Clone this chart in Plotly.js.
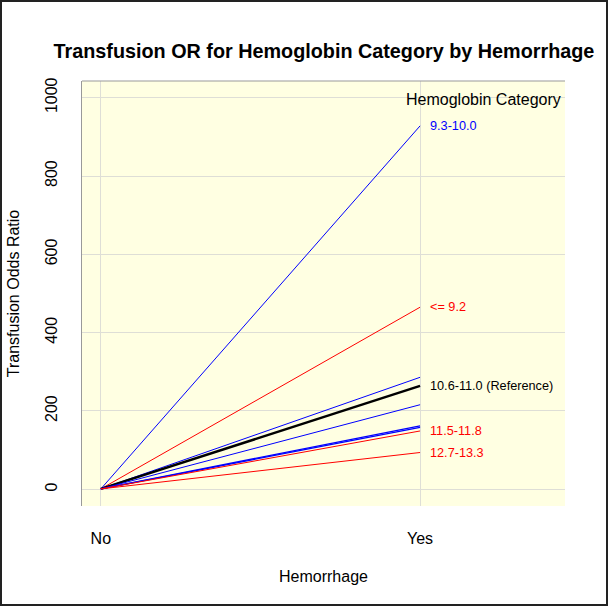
<!DOCTYPE html>
<html>
<head>
<meta charset="utf-8">
<script src="https://cdn.plot.ly/plotly-3.0.1.min.js"></script>
<style>
html,body{margin:0;padding:0;background:#fff;}
#frame{width:608px;height:606px;box-sizing:border-box;border:2px solid #222;background:#fff;}
#chart{width:604px;height:602px;}
</style>
</head>
<body>
<div id="frame"><div id="chart"></div></div>
<script>
// Data
const hemorrhage = ["No", "Yes"];
const categories = ["9.3-10.0", "<= 9.2", "9.3-10.0 b", "10.6-11.0 (Reference)", "10.1-10.5", "11.2-11.4", "11.9-12.6", "11.5-11.8", "12.7-13.3"];
const noValues  = [1, 1, 1, 1, 1, 1, 1, 1, 1];
const yesValues = [928, 465, 286, 264, 216, 162, 158, 149, 94];
const lineColors = ["blue", "red", "blue", "black", "blue", "blue", "blue", "red", "red"];
const lineWidths = [1, 1, 1, 2.5, 1, 1.3, 1.3, 1, 1];
const labelTexts = ["9.3-10.0", "<= 9.2", "10.6-11.0 (Reference)", "11.5-11.8", "12.7-13.3"];
const labelValues = [928, 465, 264, 149, 94];
const labelColors = ["blue", "red", "black", "red", "red"];
const yTicks = [0, 200, 400, 600, 800, 1000];
const legendTitle = "Hemoglobin Category";

const xIdx = hemorrhage.map((_, i) => i);
const traces = categories.map((c, i) => ({
  x: xIdx,
  y: [noValues[i], yesValues[i]],
  type: "scatter",
  mode: "lines",
  name: c,
  line: {color: lineColors[i], width: lineWidths[i]},
  hoverinfo: "skip"
}));

const annotations = labelTexts.map((t, i) => ({
  x: 1, y: labelValues[i], xref: "x", yref: "y",
  text: t, showarrow: false, xanchor: "left", yanchor: "middle",
  xshift: 8,
  font: {family: "Liberation Sans, Arial, sans-serif", size: 12.7, color: labelColors[i]}
}));
annotations.push({
  x: 1, y: 1, xref: "paper", yref: "paper", text: legendTitle, showarrow: false,
  xanchor: "right", yanchor: "middle", xshift: -2, yshift: -18,
  font: {family: "Liberation Sans, Arial, sans-serif", size: 16, color: "black"}
});

const layout = {
  width: 604, height: 602,
  margin: {l: 80, r: 41, t: 79, b: 98},
  paper_bgcolor: "#ffffff",
  plot_bgcolor: "#FFFFE2",
  showlegend: false,
  title: {
    text: "<b>Transfusion OR for Hemoglobin Category by Hemorrhage</b>",
    font: {family: "Liberation Sans, Arial, sans-serif", size: 19.8, color: "black"},
    x: 0.533, xanchor: "center", y: 0.918, yanchor: "middle"
  },
  font: {family: "Liberation Sans, Arial, sans-serif", color: "black"},
  xaxis: {
    range: [-0.059, 1.454],
    tickvals: xIdx, ticktext: hemorrhage,
    showgrid: true, gridcolor: "#DEDED6", gridwidth: 1,
    zeroline: false, showline: false, ticks: "",
    tickfont: {size: 16}, ticklabelstandoff: 21,
    title: {text: "Hemorrhage", font: {size: 16}, standoff: 24}
  },
  yaxis: {
    range: [-42.6, 1042.6],
    tickvals: yTicks,
    showgrid: true, gridcolor: "#DEDED6", gridwidth: 1,
    zeroline: false, showline: true, linecolor: "#999999", linewidth: 1,
    ticks: "", tickangle: -90,
    tickfont: {size: 16}, ticklabelstandoff: 18,
    title: {text: "Transfusion Odds Ratio", font: {size: 16}, standoff: 18}
  },
  shapes: [{
    type: "line", xref: "paper", yref: "paper", x0: 0, x1: 1, y0: 1, y1: 1,
    line: {color: "#999999", width: 1}
  }],
  annotations: annotations
};

Plotly.newPlot("chart", traces, layout, {displayModeBar: false, staticPlot: true});
</script>
</body>
</html>
